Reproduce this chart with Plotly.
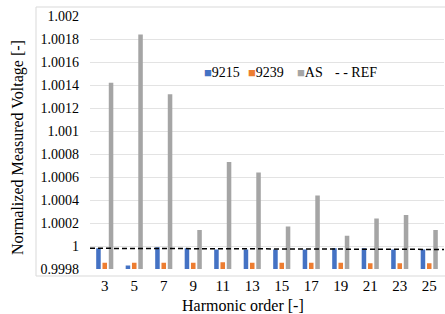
import plotly.graph_objects as go

# ---- data ----
HARMONICS = ["3", "5", "7", "9", "11", "13", "15", "17", "19", "21", "23", "25"]
V_9215 = [0.99998, 0.99983, 0.99999, 0.99998, 0.99997, 0.99997, 0.99997, 0.99997, 0.99998, 0.99998, 0.99997, 0.99997]
V_9239 = [0.999855, 0.999855, 0.999855, 0.999855, 0.999858, 0.999855, 0.999855, 0.999855, 0.999855, 0.99985, 0.99985, 0.99985]
V_AS = [1.00142, 1.00184, 1.00132, 1.00014, 1.00073, 1.00064, 1.00017, 1.00044, 1.00009, 1.00024, 1.00027, 1.00014]
REF_ENDS = [0.99998, 0.99997]
Y_TICKS = [0.9998, 1.0, 1.0002, 1.0004, 1.0006, 1.0008, 1.001, 1.0012, 1.0014, 1.0016, 1.0018, 1.002]
Y_TICK_LABELS = ["0.9998", "1", "1.0002", "1.0004", "1.0006", "1.0008", "1.001", "1.0012", "1.0014", "1.0016", "1.0018", "1.002"]
SERIES_NAMES = ["9215", "9239", "AS", "REF"]
COLORS = ["#4472C4", "#ED7D31", "#A5A5A5", "#000000"]

FONT = "Liberation Serif"
W, H = 445, 314
L, R, T, B = 90, 1, 16, 45
PW = W - L - R
PH = H - T - B


def px_x(p):
    return (p - L) / PW


def px_y(p):
    return 1 - (p - T) / PH


fig = go.Figure()
for name, vals, col in zip(SERIES_NAMES[:3], [V_9215, V_9239, V_AS], COLORS[:3]):
    fig.add_trace(go.Bar(x=HARMONICS, y=vals, name=name, marker_color=col,
                         marker_line_width=0, showlegend=False))

fig.add_trace(go.Scatter(x=[0, 1], y=REF_ENDS, mode="lines", name=SERIES_NAMES[3],
                         xaxis="x2", yaxis="y", showlegend=False,
                         line=dict(color=COLORS[3], width=1.5, dash="5px,3px")))

fig.update_layout(
    width=W, height=H,
    margin=dict(l=L, r=R, t=T, b=B),
    paper_bgcolor="white", plot_bgcolor="white",
    barmode="group", bargap=0.36, bargroupgap=0.28,
    font=dict(family=FONT, size=14, color="#000000"),
    xaxis=dict(type="category", showgrid=False, showline=False, zeroline=False,
               ticks="", ticklabelstandoff=6, tickfont=dict(family=FONT, size=15)),
    xaxis2=dict(overlaying="x", range=[0, 1], visible=False),
    yaxis=dict(range=[0.9998, 1.002], tickvals=Y_TICKS, ticktext=Y_TICK_LABELS,
               showgrid=True, gridcolor="#E3E3E3", gridwidth=1, zeroline=False,
               showline=False, ticks="", ticklabelstandoff=10,
               tickfont=dict(family=FONT, size=14)),
    showlegend=False,
)

# outer light border (chart area)
fig.add_shape(type="rect", xref="paper", yref="paper",
              x0=px_x(36), x1=px_x(447), y0=px_y(276), y1=px_y(7),
              line=dict(color="#D9D9D9", width=1), fillcolor="rgba(0,0,0,0)", layer="below")

# axis titles
fig.add_annotation(text="Harmonic order [-]", xref="paper", yref="paper",
                   x=px_x(243), y=px_y(305), showarrow=False,
                   font=dict(family=FONT, size=16), xanchor="center", yanchor="middle")
fig.add_annotation(text="Normalized Measured Voltage [-]", xref="paper", yref="paper",
                   x=px_x(18), y=px_y(148), showarrow=False, textangle=-90,
                   font=dict(family=FONT, size=16), xanchor="center", yanchor="middle")

# legend
LEG_X = [202, 246, 295, 333]
for i, (name, col) in enumerate(zip(SERIES_NAMES, COLORS)):
    if i < 3:
        txt = f"<span style='color:{col};font-size:13px'>■</span>{name}"
    else:
        txt = f"- - {name}"
    fig.add_annotation(text=txt, xref="paper", yref="paper", x=px_x(LEG_X[i]), y=px_y(72),
                       showarrow=False, xanchor="left", yanchor="middle",
                       font=dict(family=FONT, size=14))

fig.write_html("out.html", config={"displayModeBar": False},
               post_script="document.body.style.margin='0';")
